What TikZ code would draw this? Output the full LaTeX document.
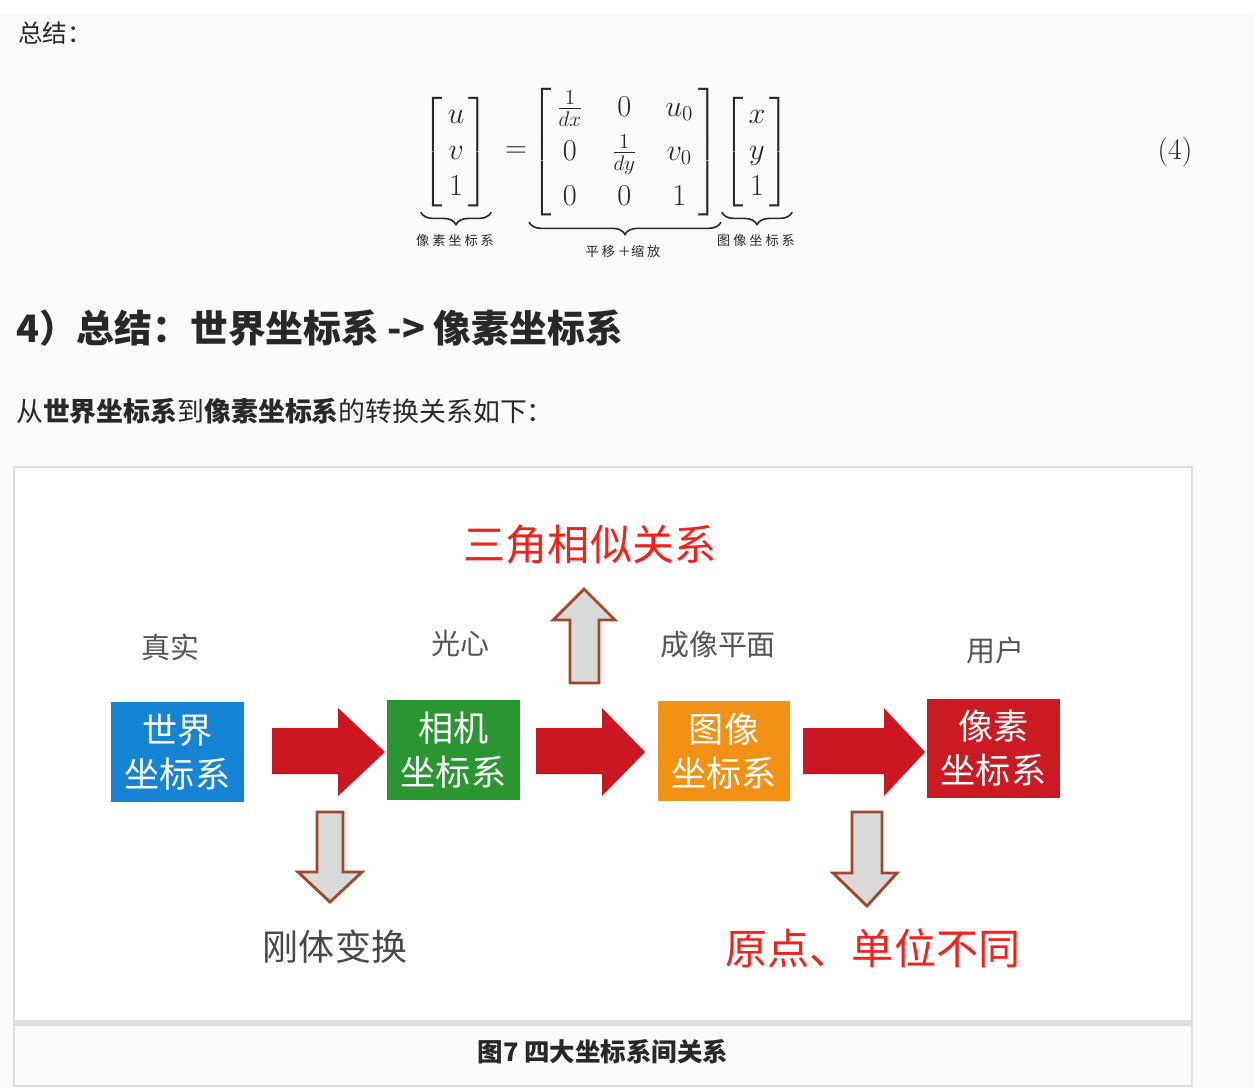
\documentclass[tikz,border=0pt]{standalone}
\usepackage{amsmath}
\usepackage{fontspec}
\newfontfamily\cjk{Noto Sans CJK SC}
\usetikzlibrary{decorations.pathreplacing}

\definecolor{pagebg}{RGB}{250,250,250}
\definecolor{framegray}{RGB}{222,222,222}
\definecolor{inkdark}{RGB}{40,40,40}
\definecolor{labgray}{RGB}{85,85,85}
\definecolor{worldblue}{RGB}{22,132,212}
\definecolor{camgreen}{RGB}{42,150,50}
\definecolor{imgorange}{RGB}{243,145,20}
\definecolor{pixred}{RGB}{204,26,34}
\definecolor{flowred}{RGB}{204,22,33}
\definecolor{markred}{RGB}{246,32,26}
\definecolor{hollowfill}{RGB}{218,218,218}
\definecolor{hollowedge}{RGB}{162,72,42}

\begin{document}
\begin{tikzpicture}[x=0.02cm, y=-0.02cm]
  \tikzset{
    cbox/.style={rectangle, minimum width=2.66cm, minimum height=2cm,
      inner sep=0pt, text=white, align=center,
      font=\cjk\fontsize{20}{25}\selectfont},
    note/.style={font=\cjk\fontsize{16.5}{20}\selectfont, text=labgray},
    remark/.style={font=\cjk\fontsize{24}{28}\selectfont, text=markred},
    mathnode/.style={inner sep=1pt, text=inkdark, font=\fontsize{17}{20.4}\selectfont},
    bracelabel/.style={font=\cjk\fontsize{7.5}{9}\selectfont, text=inkdark},
    brace/.style={decorate, decoration={brace, mirror, amplitude=7pt}, line width=0.9pt, draw=inkdark},
    flow/.style={fill=flowred},
    hollow/.style={fill=hollowfill, draw=hollowedge, line width=1.6pt, line join=miter}
  }
  \useasboundingbox (0,0) rectangle (1254,1088);

  % page
  \fill[pagebg] (0,0) rectangle (1254,1088);
  \fill[white] (0,0) rectangle (1254,14);

  \node[anchor=west, text=inkdark, font=\cjk\fontsize{14}{17}\selectfont] (sumup) at (12,33) {总结：};

  % equation
  \node[mathnode] (pixvec) at (456,152)
    {\setlength{\arraycolsep}{2.5pt}$\left[\begin{array}{c} u\\ v\\ 1\end{array}\right]$};
  \node[mathnode] (eq) at (516,152) {$=$};
  \node[mathnode] (scalemat) at (625,152)
    {\setlength{\arraycolsep}{8pt}\renewcommand{\arraystretch}{1.22}%
     $\left[\begin{array}{@{\hspace{3pt}}ccc@{\hspace{3pt}}} \frac{1}{dx} & 0 & u_0\\ 0 & \frac{1}{dy} & v_0\\ 0 & 0 & 1\end{array}\right]$};
  \node[mathnode] (imgvec) at (757,152)
    {\setlength{\arraycolsep}{2.5pt}$\left[\begin{array}{c} x\\ y\\ 1\end{array}\right]$};
  \node[mathnode] (eqno) at (1175,152) {(4)};

  \draw[brace] ([yshift=-2pt]pixvec.south west) -- ([yshift=-2pt]pixvec.south east);
  \draw[brace] ([yshift=-1pt]scalemat.south west) -- ([yshift=-1pt]scalemat.south east);
  \draw[brace] ([yshift=-2pt]imgvec.south west) -- ([yshift=-2pt]imgvec.south east);
  \node[bracelabel] (pixlabel) at (455,240) {像~素~坐~标~系};
  \node[bracelabel] (matlabel) at (623,251) {平~移~＋缩~放};
  \node[bracelabel] (imglabel) at (756,240) {图~像~坐~标~系};

  \node[anchor=west, text=inkdark, font=\cjk\fontsize{21.5}{26}\selectfont\bfseries] (heading) at (10,328)
    {4）总结：世界坐标系 -> 像素坐标系};
  \node[anchor=west, text=inkdark, font=\cjk\fontsize{15.3}{18}\selectfont] (intro) at (10,411)
    {从\textbf{世界坐标系}到\textbf{像素坐标系}的转换关系如下：};

  % figure frame
  \fill[white] (14,467) rectangle (1192,1020);
  \fill[framegray] (14,1020) rectangle (1192,1026);
  \draw[framegray, line width=1.2pt] (14,467) rectangle (1192,1086);
  \node[text=inkdark, font=\cjk\fontsize{14.5}{17}\selectfont\bfseries] (caption) at (603,1052) {图7 四大坐标系间关系};

  % coordinate systems
  \node[cbox, fill=worldblue] (world) at (177.5,752) {世界\\坐标系};
  \node[cbox, fill=camgreen] (camera) at (453.5,750) {相机\\坐标系};
  \node[cbox, fill=imgorange] (image) at (724,751) {图像\\坐标系};
  \node[cbox, fill=pixred] (pixel) at (993.5,748.5) {像素\\坐标系};

  \node[note] (real) at (170,647) {真实};
  \node[note] (optic) at (460,643) {光心};
  \node[note] (plane) at (718,645) {成像平面};
  \node[note] (user) at (995,650) {用户};

  % red flow arrows
  \foreach \a/\b/\c in {272/338/385, 536/602/645, 803/884/925}
    \fill[flow] (\a,728) -- (\b,728) -- (\b,708) -- (\c,752) -- (\b,796) -- (\b,774) -- (\a,774) -- cycle;

  % hollow arrows
  \draw[hollow] (570,683) -- (570,620) -- (553,620) -- (584,589) -- (615,620) -- (599,620) -- (599,683) -- cycle;
  \draw[hollow] (317,812) -- (317,872) -- (298,872) -- (330,902) -- (362,872) -- (343,872) -- (343,812) -- cycle;
  \draw[hollow] (852,812) -- (852,873) -- (833,873) -- (867,906) -- (897,873) -- (882,873) -- (882,812) -- cycle;

  \node[remark] (similar) at (590,545) {三角相似关系};
  \node[font=\cjk\fontsize{20.5}{24}\selectfont, text=inkdark!85] (rigid) at (335,947) {刚体变换};
  \node[remark] (offset) at (873,948) {原点、单位不同};
\end{tikzpicture}
\end{document}
